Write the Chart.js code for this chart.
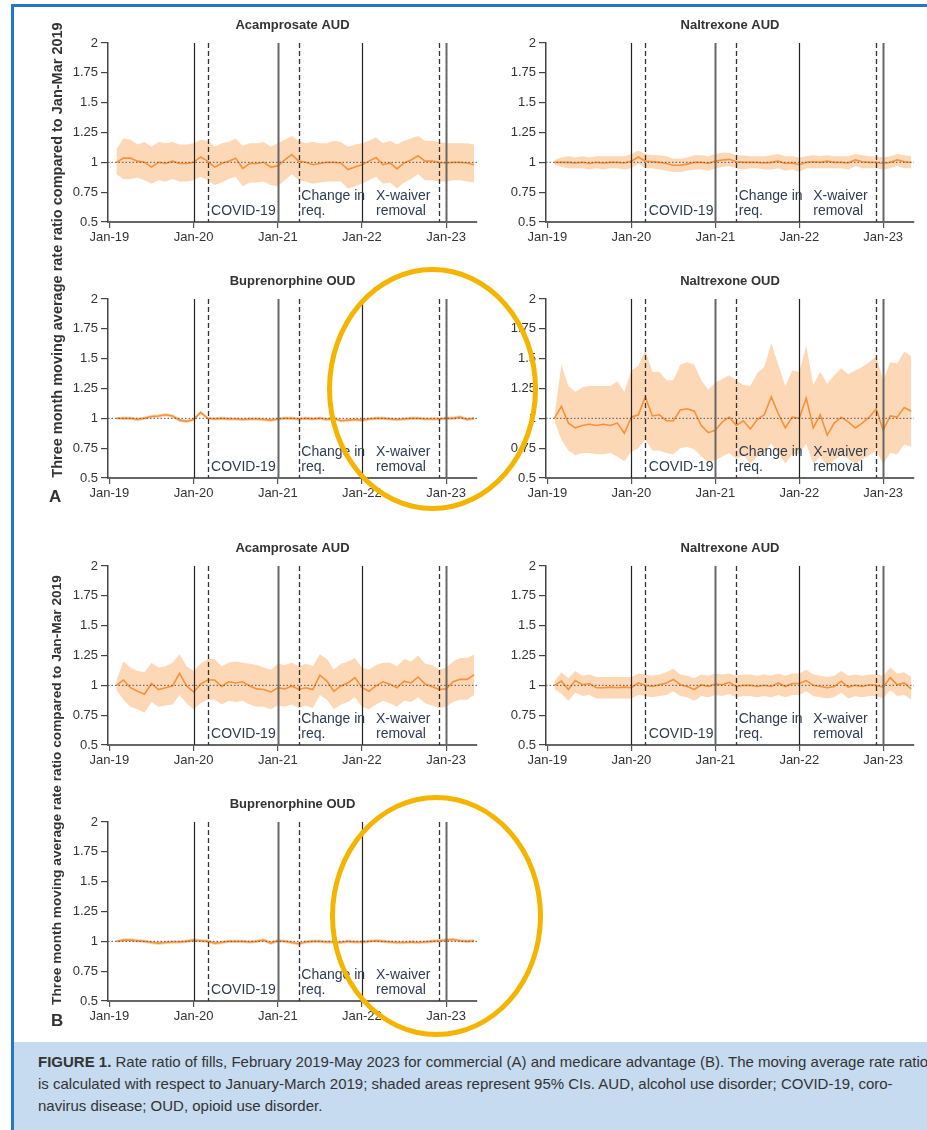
<!DOCTYPE html>
<html>
<head>
<meta charset="utf-8">
<script src="https://cdn.jsdelivr.net/npm/chart.js@4.4.1/dist/chart.umd.min.js"></script>
<style>
html, body { margin: 0; padding: 0; background: #fff; width: 927px; height: 1130px; overflow: hidden; font-family: "Liberation Sans", Arial, sans-serif; }
.frame { position: absolute; left: 11px; top: 4px; width: 940px; height: 1140px; border-left: 3px solid #2377c9; border-top: 3px solid #2377c9; }
.panel { position: absolute; }
.ytitle { position: absolute; width: 480px; height: 18px; line-height: 18px; text-align: center; font-weight: bold; font-size: 14.5px; color: #333; transform: rotate(-90deg); white-space: nowrap; }
.tag { position: absolute; font-weight: bold; font-size: 17px; color: #333; }
.ring { position: absolute; border: 5px solid #f5b400; border-radius: 50%; box-sizing: border-box; }
.caption { position: absolute; left: 14px; top: 1042px; width: 913px; height: 88px; background: #c6daf0; color: #333; font-size: 15px; padding: 9px 0 0 24px; box-sizing: border-box; overflow: hidden; }
.caption div { white-space: nowrap; line-height: 22px; }
</style>
</head>
<body>
<div class="frame"></div>

<script>
// 月 (Jan-19 = 0)
var MONTHS = [1, 2, 3, 4, 5, 6, 7, 8, 9, 10, 11, 12, 13, 14, 15, 16, 17, 18, 19, 20, 21, 22, 23, 24, 25, 26,
  27, 28, 29, 30, 31, 32, 33, 34, 35, 36, 37, 38, 39, 40, 41, 42, 43, 44, 45, 46, 47, 48, 49, 50, 51, 52];
var TICK_MONTHS = [0, 12, 24, 36, 48];
var TICK_LABELS = ["Jan-19", "Jan-20", "Jan-21", "Jan-22", "Jan-23"];
var SOLID_MONTHS = [12, 24, 36, 48];
var DASHED_MONTHS = [14, 27, 47];
var REF_VALUE = 1;

// 注釈
var NOTE_MONTHS = [14.5, 27.35, 38.0];
var NOTE_LINES = [["", "COVID-19"], ["Change in", "req."], ["X-waiver", "removal"]];

// (A) commercial
var A_ACAM_RR = [1.00, 1.035, 1.035, 1.01, 1.00, 0.96, 1.00, 0.99, 1.01, 0.99, 0.99, 1.00, 1.045, 1.01, 0.96, 0.99, 1.01, 1.035, 0.95, 0.99, 0.99, 1.00, 0.96, 0.97, 1.02, 1.065,
  1.01, 1.00, 0.98, 0.99, 1.00, 1.00, 0.995, 0.94, 0.96, 0.98, 1.01, 1.04, 0.98, 0.995, 0.945, 0.995, 1.02, 1.055, 1.01, 1.01, 1.00, 0.995, 1.00, 1.00, 0.995, 0.98];
var A_ACAM_HI = [1.11, 1.20, 1.19, 1.15, 1.17, 1.13, 1.17, 1.16, 1.17, 1.15, 1.15, 1.16, 1.19, 1.18, 1.13, 1.16, 1.17, 1.20, 1.14, 1.16, 1.16, 1.17, 1.13, 1.16, 1.19, 1.22,
  1.18, 1.16, 1.17, 1.16, 1.16, 1.18, 1.17, 1.13, 1.15, 1.16, 1.18, 1.21, 1.16, 1.18, 1.15, 1.18, 1.20, 1.22, 1.18, 1.18, 1.17, 1.16, 1.16, 1.16, 1.16, 1.15];
var A_ACAM_LO = [0.90, 0.86, 0.86, 0.87, 0.85, 0.82, 0.85, 0.84, 0.86, 0.84, 0.84, 0.85, 0.88, 0.85, 0.81, 0.83, 0.86, 0.88, 0.80, 0.83, 0.83, 0.84, 0.81, 0.80, 0.85, 0.90,
  0.85, 0.84, 0.82, 0.83, 0.84, 0.84, 0.84, 0.78, 0.80, 0.82, 0.85, 0.88, 0.82, 0.83, 0.78, 0.83, 0.86, 0.90, 0.85, 0.85, 0.84, 0.84, 0.85, 0.85, 0.84, 0.83];

var A_NALA_RR = [1.00, 1.00, 1.00, 0.995, 1.00, 0.99, 1.00, 0.995, 1.00, 1.00, 0.995, 1.01, 1.045, 1.01, 1.005, 1.00, 0.99, 0.975, 0.975, 0.985, 1.00, 1.00, 0.99, 1.01, 1.02, 1.025,
  1.005, 1.00, 1.00, 1.00, 0.995, 1.00, 1.01, 0.99, 0.995, 0.98, 1.00, 1.005, 1.00, 1.01, 1.00, 1.00, 0.995, 1.02, 1.005, 1.00, 1.00, 0.99, 1.00, 1.02, 1.005, 1.00];
var A_NALA_HI = [1.02, 1.04, 1.05, 1.04, 1.05, 1.04, 1.05, 1.05, 1.05, 1.05, 1.05, 1.07, 1.10, 1.07, 1.06, 1.06, 1.05, 1.03, 1.03, 1.04, 1.06, 1.06, 1.05, 1.07, 1.08, 1.08,
  1.06, 1.06, 1.05, 1.05, 1.05, 1.06, 1.07, 1.05, 1.05, 1.04, 1.05, 1.06, 1.05, 1.06, 1.05, 1.05, 1.05, 1.07, 1.06, 1.05, 1.05, 1.04, 1.05, 1.07, 1.06, 1.05];
var A_NALA_LO = [0.98, 0.96, 0.95, 0.95, 0.95, 0.94, 0.95, 0.94, 0.95, 0.95, 0.94, 0.95, 0.99, 0.95, 0.95, 0.94, 0.93, 0.92, 0.92, 0.93, 0.94, 0.94, 0.93, 0.95, 0.96, 0.97,
  0.95, 0.94, 0.95, 0.95, 0.94, 0.94, 0.95, 0.93, 0.94, 0.92, 0.95, 0.95, 0.95, 0.95, 0.95, 0.95, 0.94, 0.97, 0.95, 0.95, 0.95, 0.94, 0.95, 0.97, 0.95, 0.95];

var A_BUPO_RR = [1.00, 1.00, 1.00, 0.99, 1.00, 1.015, 1.02, 1.03, 1.02, 0.985, 0.975, 0.99, 1.05, 1.00, 0.995, 1.00, 0.995, 0.995, 0.99, 0.995, 0.995, 0.99, 0.985, 0.995, 1.00, 1.00,
  0.995, 1.00, 0.995, 1.00, 0.99, 1.00, 0.98, 0.985, 0.99, 0.985, 0.995, 1.00, 1.00, 0.995, 0.99, 0.995, 1.00, 1.00, 0.995, 0.995, 0.995, 1.00, 1.00, 1.01, 0.99, 1.00];
var A_BUPO_HI = [1.01, 1.015, 1.015, 1.005, 1.015, 1.03, 1.035, 1.045, 1.035, 1.00, 0.99, 1.005, 1.065, 1.015, 1.01, 1.015, 1.01, 1.01, 1.005, 1.01, 1.01, 1.005, 1.00, 1.01, 1.015, 1.015,
  1.01, 1.015, 1.01, 1.015, 1.005, 1.015, 0.995, 1.00, 1.005, 1.00, 1.01, 1.015, 1.015, 1.01, 1.005, 1.01, 1.015, 1.015, 1.01, 1.01, 1.01, 1.015, 1.015, 1.025, 1.005, 1.015];
var A_BUPO_LO = [0.99, 0.985, 0.985, 0.975, 0.985, 1.00, 1.005, 1.015, 1.005, 0.97, 0.96, 0.975, 1.035, 0.985, 0.98, 0.985, 0.98, 0.98, 0.975, 0.98, 0.98, 0.975, 0.97, 0.98, 0.985, 0.985,
  0.98, 0.985, 0.98, 0.985, 0.975, 0.985, 0.965, 0.97, 0.975, 0.97, 0.98, 0.985, 0.985, 0.98, 0.975, 0.98, 0.985, 0.985, 0.98, 0.98, 0.98, 0.985, 0.985, 0.995, 0.975, 0.985];

var A_NALO_RR = [1.00, 1.10, 0.96, 0.92, 0.94, 0.95, 0.94, 0.95, 0.94, 0.96, 0.875, 1.01, 1.03, 1.18, 1.02, 1.03, 0.98, 0.98, 1.07, 1.08, 1.06, 0.94, 0.88, 0.90, 0.97, 1.01,
  0.94, 0.98, 0.91, 0.99, 1.03, 1.18, 1.04, 0.92, 1.01, 1.00, 1.17, 0.92, 1.03, 0.86, 0.96, 1.01, 0.97, 0.92, 0.96, 1.01, 1.08, 0.90, 1.02, 1.01, 1.09, 1.06];
var A_NALO_HI = [1.02, 1.45, 1.27, 1.22, 1.26, 1.27, 1.27, 1.27, 1.27, 1.31, 1.22, 1.40, 1.44, 1.57, 1.39, 1.39, 1.32, 1.32, 1.45, 1.47, 1.45, 1.32, 1.24, 1.30, 1.33, 1.36,
  1.32, 1.28, 1.27, 1.38, 1.43, 1.63, 1.45, 1.27, 1.40, 1.39, 1.61, 1.28, 1.39, 1.29, 1.36, 1.42, 1.37, 1.40, 1.43, 1.47, 1.52, 1.32, 1.47, 1.46, 1.56, 1.52];
var A_NALO_LO = [0.98, 0.82, 0.73, 0.69, 0.71, 0.71, 0.70, 0.70, 0.71, 0.68, 0.64, 0.72, 0.75, 0.82, 0.73, 0.73, 0.71, 0.70, 0.75, 0.76, 0.74, 0.68, 0.63, 0.65, 0.68, 0.71,
  0.66, 0.69, 0.62, 0.68, 0.71, 0.79, 0.71, 0.62, 0.70, 0.70, 0.79, 0.62, 0.68, 0.60, 0.65, 0.69, 0.66, 0.62, 0.66, 0.69, 0.73, 0.62, 0.71, 0.70, 0.78, 0.76];

// (B) medicare advantage
var B_ACAM_RR = [1.00, 1.045, 0.98, 0.95, 0.925, 1.015, 0.965, 0.98, 0.995, 1.10, 0.995, 0.945, 1.01, 1.045, 1.045, 0.99, 1.03, 1.02, 1.03, 0.995, 0.97, 0.965, 0.945, 0.98, 0.97, 0.995,
  0.965, 0.98, 0.965, 1.085, 1.035, 0.95, 0.995, 1.02, 1.065, 0.98, 0.95, 0.995, 1.03, 1.01, 0.98, 1.035, 1.02, 1.07, 1.01, 0.99, 0.965, 0.97, 1.03, 1.05, 1.05, 1.09];
var B_ACAM_HI = [1.04, 1.20, 1.15, 1.12, 1.11, 1.19, 1.15, 1.16, 1.19, 1.26, 1.16, 1.12, 1.18, 1.22, 1.22, 1.16, 1.19, 1.20, 1.19, 1.18, 1.17, 1.15, 1.13, 1.18, 1.17, 1.19,
  1.16, 1.18, 1.16, 1.26, 1.22, 1.13, 1.18, 1.20, 1.23, 1.15, 1.13, 1.17, 1.19, 1.19, 1.16, 1.22, 1.20, 1.25, 1.18, 1.17, 1.13, 1.15, 1.20, 1.23, 1.23, 1.26];
var B_ACAM_LO = [0.96, 0.88, 0.82, 0.80, 0.77, 0.86, 0.82, 0.83, 0.84, 0.92, 0.85, 0.80, 0.85, 0.88, 0.88, 0.84, 0.87, 0.86, 0.87, 0.84, 0.82, 0.82, 0.80, 0.83, 0.82, 0.84,
  0.81, 0.83, 0.81, 0.92, 0.88, 0.80, 0.84, 0.86, 0.90, 0.82, 0.80, 0.84, 0.87, 0.85, 0.82, 0.87, 0.86, 0.90, 0.85, 0.83, 0.81, 0.82, 0.86, 0.88, 0.88, 0.92];

var B_NALA_RR = [1.00, 1.035, 0.965, 1.04, 1.005, 1.015, 0.98, 0.98, 0.985, 0.98, 0.985, 0.98, 1.02, 1.00, 0.99, 1.005, 1.02, 1.05, 1.005, 0.99, 0.965, 1.005, 0.99, 1.01, 1.005, 1.025,
  0.99, 1.00, 1.00, 0.99, 1.00, 0.99, 1.02, 0.99, 1.015, 1.015, 1.04, 1.00, 0.99, 0.98, 0.99, 1.035, 0.985, 1.00, 0.99, 1.005, 1.00, 0.985, 1.065, 1.005, 1.02, 0.97];
var B_NALA_HI = [1.03, 1.11, 1.06, 1.12, 1.08, 1.09, 1.07, 1.07, 1.07, 1.07, 1.07, 1.07, 1.10, 1.09, 1.08, 1.09, 1.11, 1.14, 1.09, 1.08, 1.06, 1.09, 1.08, 1.10, 1.09, 1.10,
  1.08, 1.09, 1.09, 1.08, 1.09, 1.08, 1.10, 1.08, 1.10, 1.10, 1.13, 1.09, 1.08, 1.07, 1.08, 1.12, 1.08, 1.09, 1.08, 1.09, 1.09, 1.08, 1.15, 1.10, 1.11, 1.07];
var B_NALA_LO = [0.97, 0.93, 0.87, 0.94, 0.91, 0.92, 0.89, 0.89, 0.89, 0.89, 0.89, 0.89, 0.92, 0.91, 0.90, 0.91, 0.92, 0.95, 0.91, 0.90, 0.87, 0.91, 0.90, 0.92, 0.91, 0.93,
  0.90, 0.91, 0.91, 0.90, 0.91, 0.90, 0.92, 0.90, 0.92, 0.92, 0.95, 0.91, 0.90, 0.89, 0.90, 0.94, 0.89, 0.91, 0.90, 0.91, 0.91, 0.89, 0.96, 0.91, 0.92, 0.88];

var B_BUPO_RR = [1.00, 1.01, 1.01, 1.005, 1.00, 0.99, 0.985, 0.99, 0.995, 0.995, 1.00, 1.01, 1.005, 1.00, 0.985, 0.99, 1.00, 1.00, 1.00, 0.995, 1.00, 1.01, 0.985, 1.005, 1.00, 0.99,
  0.98, 0.995, 1.00, 1.00, 0.995, 0.995, 0.99, 1.00, 0.995, 0.995, 1.00, 1.005, 1.00, 0.995, 0.99, 0.99, 0.995, 0.99, 0.995, 1.00, 1.005, 1.01, 1.015, 1.005, 1.00, 1.005];
var B_BUPO_HI = [1.01, 1.025, 1.025, 1.02, 1.015, 1.005, 1.00, 1.005, 1.01, 1.01, 1.015, 1.025, 1.02, 1.015, 1.00, 1.005, 1.015, 1.015, 1.015, 1.01, 1.015, 1.025, 1.00, 1.02, 1.015, 1.005,
  0.995, 1.01, 1.015, 1.015, 1.01, 1.01, 1.005, 1.015, 1.01, 1.01, 1.015, 1.02, 1.015, 1.01, 1.005, 1.005, 1.01, 1.005, 1.01, 1.015, 1.02, 1.025, 1.03, 1.02, 1.015, 1.02];
var B_BUPO_LO = [0.99, 0.995, 0.995, 0.99, 0.985, 0.975, 0.97, 0.975, 0.98, 0.98, 0.985, 0.995, 0.99, 0.985, 0.97, 0.975, 0.985, 0.985, 0.985, 0.98, 0.985, 0.995, 0.97, 0.99, 0.985, 0.975,
  0.965, 0.98, 0.985, 0.985, 0.98, 0.98, 0.975, 0.985, 0.98, 0.98, 0.985, 0.99, 0.985, 0.98, 0.975, 0.975, 0.98, 0.975, 0.98, 0.985, 0.99, 0.995, 1.00, 0.99, 0.985, 0.99];

var PANELS = [
  { title: "Acamprosate AUD", rr: A_ACAM_RR, hi: A_ACAM_HI, lo: A_ACAM_LO, left: 0, top: 8 },
  { title: "Naltrexone AUD", rr: A_NALA_RR, hi: A_NALA_HI, lo: A_NALA_LO, left: 438, top: 8 },
  { title: "Buprenorphine OUD", rr: A_BUPO_RR, hi: A_BUPO_HI, lo: A_BUPO_LO, left: 0, top: 264 },
  { title: "Naltrexone OUD", rr: A_NALO_RR, hi: A_NALO_HI, lo: A_NALO_LO, left: 438, top: 264 },
  { title: "Acamprosate AUD", rr: B_ACAM_RR, hi: B_ACAM_HI, lo: B_ACAM_LO, left: 0, top: 531 },
  { title: "Naltrexone AUD", rr: B_NALA_RR, hi: B_NALA_HI, lo: B_NALA_LO, left: 438, top: 531 },
  { title: "Buprenorphine OUD", rr: B_BUPO_RR, hi: B_BUPO_HI, lo: B_BUPO_LO, left: 0, top: 787 }
];

var FONT = '"Liberation Sans", Arial, sans-serif';
Chart.defaults.font.family = FONT;
Chart.defaults.color = "#333";

// タイトル・縦線・注釈を描くプラグイン
var overlayPlugin = {
  id: "overlay",
  afterDatasetsDraw: function (chart, args, opts) {
    var ctx = chart.ctx, a = chart.chartArea, x = chart.scales.x, y = chart.scales.y;
    ctx.save();

    // 基準線 (1)
    var yRef = y.getPixelForValue(REF_VALUE);
    ctx.setLineDash([1.5, 2]);
    ctx.strokeStyle = "#555";
    ctx.lineWidth = 1;
    ctx.beginPath(); ctx.moveTo(a.left, yRef); ctx.lineTo(a.right, yRef); ctx.stroke();

    // 実線
    ctx.setLineDash([]);
    SOLID_MONTHS.forEach(function (m, i) {
      var px = Math.round(x.getPixelForValue(m)) + 0.5;
      ctx.strokeStyle = i % 2 === 0 ? "#222" : "#666";
      ctx.lineWidth = i % 2 === 0 ? 1.2 : 2;
      ctx.beginPath(); ctx.moveTo(px, a.top); ctx.lineTo(px, a.bottom); ctx.stroke();
    });

    // 破線
    ctx.setLineDash([5, 3]);
    ctx.strokeStyle = "#333";
    ctx.lineWidth = 1.3;
    DASHED_MONTHS.forEach(function (m) {
      var px = Math.round(x.getPixelForValue(m)) + 0.5;
      ctx.beginPath(); ctx.moveTo(px, a.top); ctx.lineTo(px, a.bottom); ctx.stroke();
    });
    ctx.setLineDash([]);

    // 注釈
    ctx.fillStyle = "#2e3d50";
    ctx.font = "14px " + FONT;
    ctx.textAlign = "left";
    ctx.textBaseline = "alphabetic";
    NOTE_MONTHS.forEach(function (m, i) {
      var px = x.getPixelForValue(m);
      ctx.fillText(NOTE_LINES[i][0], px, y.getPixelForValue(0.685));
      ctx.fillText(NOTE_LINES[i][1], px, y.getPixelForValue(0.56));
    });

    // タイトル
    ctx.fillStyle = "#333";
    ctx.font = "bold 13px " + FONT;
    ctx.textAlign = "center";
    ctx.textBaseline = "middle";
    ctx.fillText(opts.text, (a.left + a.right) / 2, a.top - 18);
    ctx.restore();
  }
};

function drawPanel(p) {
  var div = document.createElement("div");
  div.className = "panel";
  var w = p.left === 0 ? 490 : 489;
  div.style.left = p.left + "px";
  div.style.top = p.top + "px";
  var canvas = document.createElement("canvas");
  canvas.width = w;
  canvas.height = 242;
  div.appendChild(canvas);
  document.body.appendChild(div);

  function pts(arr) {
    return arr.map(function (v, i) { return { x: MONTHS[i], y: v }; });
  }

  new Chart(canvas.getContext("2d"), {
    type: "line",
    data: {
      datasets: [
        { data: pts(p.rr), borderColor: "#f7923a", borderWidth: 1.6, pointRadius: 0, fill: false, tension: 0 },
        { data: pts(p.hi), borderWidth: 0, pointRadius: 0, fill: "+1", backgroundColor: "#fdd8b6", tension: 0 },
        { data: pts(p.lo), borderWidth: 0, pointRadius: 0, fill: false, tension: 0 }
      ]
    },
    options: {
      responsive: false,
      animation: false,
      layout: { padding: { top: 35, right: 13, left: 0, bottom: 0 } },
      plugins: { legend: { display: false }, tooltip: { enabled: false }, overlay: { text: p.title } },
      scales: {
        x: {
          type: "linear",
          min: -0.2,
          max: 52.4,
          afterBuildTicks: function (s) { s.ticks = TICK_MONTHS.map(function (v) { return { value: v }; }); },
          afterFit: function (s) { s.height = 28; },
          ticks: {
            autoSkip: false, maxRotation: 0, padding: 2, color: "#333",
            font: { size: 13 },
            callback: function (v, i) { return TICK_LABELS[i]; }
          },
          grid: { drawOnChartArea: false, drawTicks: true, tickLength: 6, color: "#555", lineWidth: 1.2 },
          border: { display: true, color: "#666", width: 2 }
        },
        y: {
          min: 0.5,
          max: 2,
          afterFit: function (s) { s.width = 108; },
          ticks: {
            stepSize: 0.25, padding: 3, color: "#333",
            font: { size: 13 },
            callback: function (v) { return String(+v.toFixed(2)); }
          },
          grid: { drawOnChartArea: false, drawTicks: true, tickLength: 7, color: "#444", lineWidth: 1.2 },
          border: { display: true, color: "#444", width: 1.5 }
        }
      }
    },
    plugins: [overlayPlugin]
  });
}

PANELS.forEach(drawPanel);
</script>

<div class="ytitle" style="left:-183px; top:241px;">Three month moving average rate ratio compared to Jan-Mar 2019</div>
<div class="ytitle" style="left:-183px; top:781px; font-size:13.7px;">Three month moving average rate ratio compared to Jan-Mar 2019</div>
<div class="tag" style="left:49px; top:487px;">A</div>
<div class="tag" style="left:51px; top:1011px;">B</div>

<div class="ring" style="left:327px; top:267px; width:211px; height:244px;"></div>
<div class="ring" style="left:330px; top:795px; width:213px; height:242px;"></div>

<div class="caption">
  <div><b>FIGURE 1.</b> Rate ratio of fills, February 2019-May 2023 for commercial (A) and medicare advantage (B). The moving average rate ratio</div>
  <div>is calculated with respect to January-March 2019; shaded areas represent 95% CIs. AUD, alcohol use disorder; COVID-19, coro-</div>
  <div>navirus disease; OUD, opioid use disorder.</div>
</div>
</body>
</html>
